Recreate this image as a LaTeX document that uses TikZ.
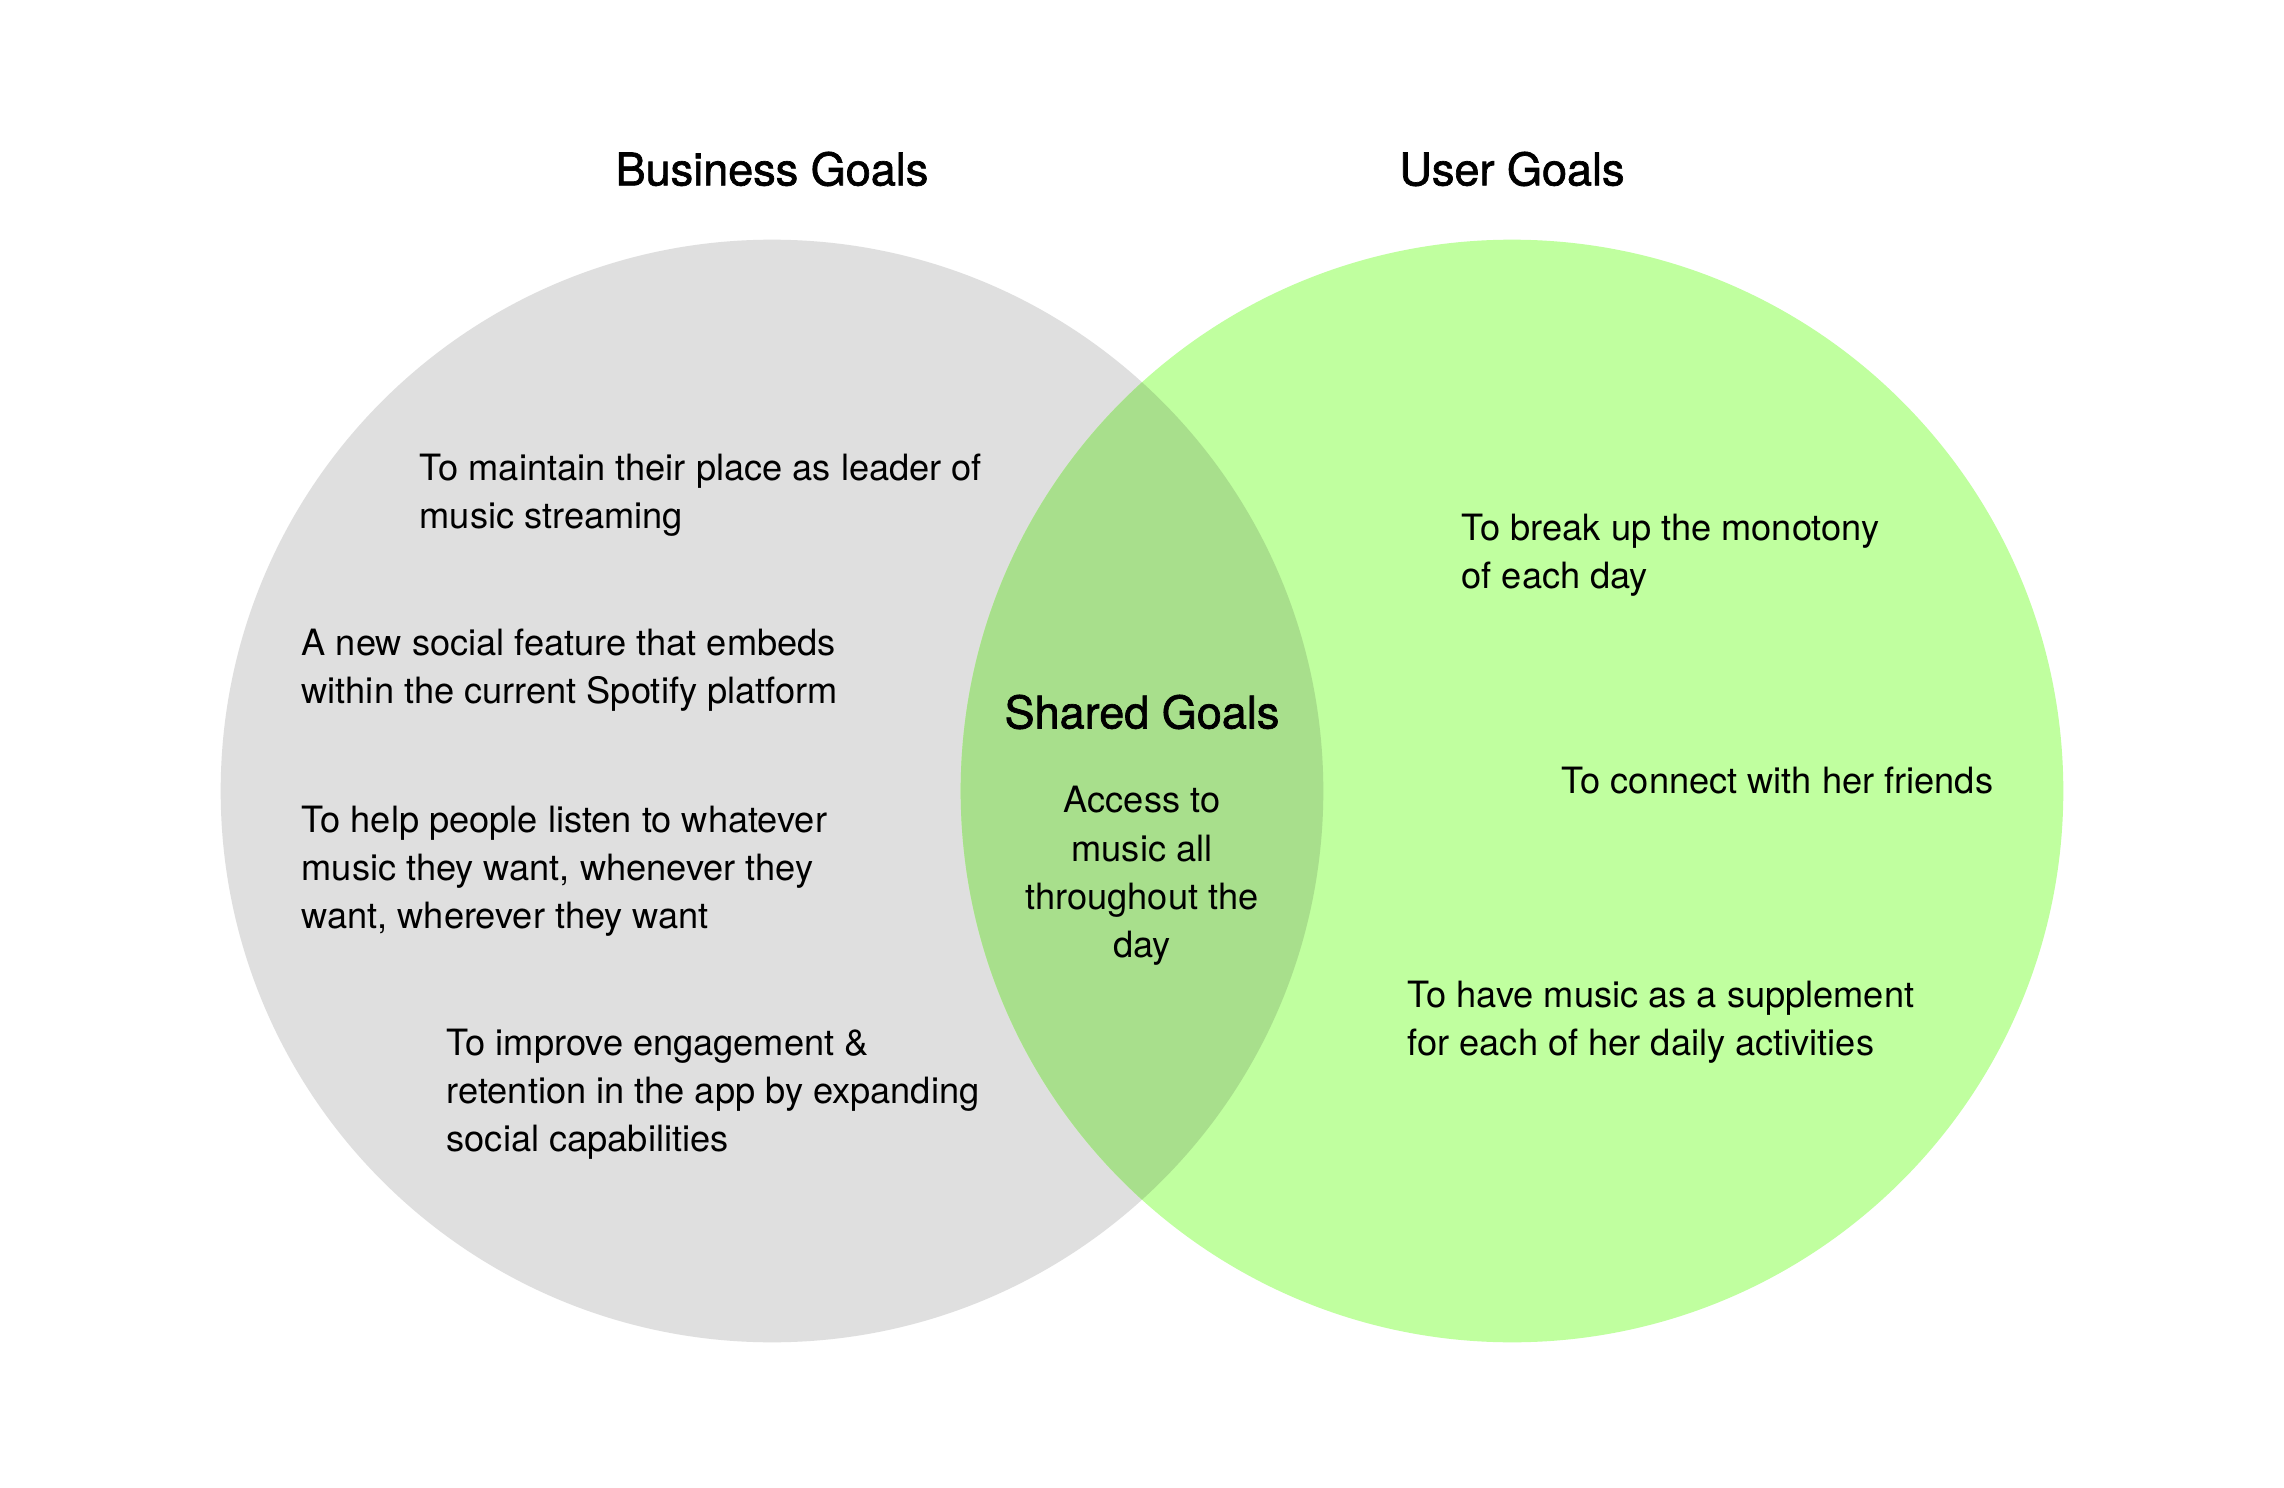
\documentclass[tikz,border=0pt]{standalone}
\usepackage{fontspec}
\setmainfont{TeX Gyre Heros}
\newfontfamily\headfont[FakeBold=1.5]{TeX Gyre Heros}
\definecolor{cgrey}{HTML}{DFDFDF}
\definecolor{cgreen}{HTML}{C0FF9F}
\definecolor{cmix}{HTML}{A8DF8C}
\tikzset{
  every picture/.style={x=0.01cm, y=-0.01cm},
  title/.style={font=\headfont\fontsize{12.8}{15}\selectfont, inner sep=0pt},
  goal/.style={font=\fontsize{10.3}{13.7}\selectfont, align=left, anchor=west, inner sep=0pt},
  shared/.style={goal, align=center, anchor=center},
}
\begin{document}
\begin{tikzpicture}
  \fill[white] (0,0) rectangle (2284,1488);
  \useasboundingbox (0,0) rectangle (2284,1488);

  % ---- circles
  \fill[cgrey]  (772,791)  circle (5.51cm);
  \fill[cgreen] (1512,791) circle (5.51cm);
  \begin{scope}
    \clip (772,791) circle (5.51cm);
    \fill[cmix] (1512,791) circle (5.51cm);
  \end{scope}

  % ---- titles
  \node[title] (biz)  at (772,169)  {Business Goals};
  \node[title] (user) at (1512,169) {User Goals};
  \node[title] (shr)  at (1142,712) {Shared Goals};

  % ---- business
  \node[goal] (lead) at (419,495)  {To maintain their place as leader of\\music streaming};
  \node[goal] (feat) at (301,670)  {A new social feature that embeds\\within the current Spotify platform};
  \node[goal] (help) at (301,871)  {To help people listen to whatever\\music they want, whenever they\\want, wherever they want};
  \node[goal] (eng)  at (446,1094) {To improve engagement \&\\retention in the app by expanding\\social capabilities};

  % ---- shared
  \node[shared] (acc) at (1142,876) {Access to\\music all\\throughout the\\day};

  % ---- user
  \node[goal] (mono) at (1461,555)  {To break up the monotony\\of each day};
  \node[goal] (frnd) at (1561,781)  {To connect with her friends};
  \node[goal] (supp) at (1407,1022) {To have music as a supplement\\for each of her daily activities};
\end{tikzpicture}
\end{document}
